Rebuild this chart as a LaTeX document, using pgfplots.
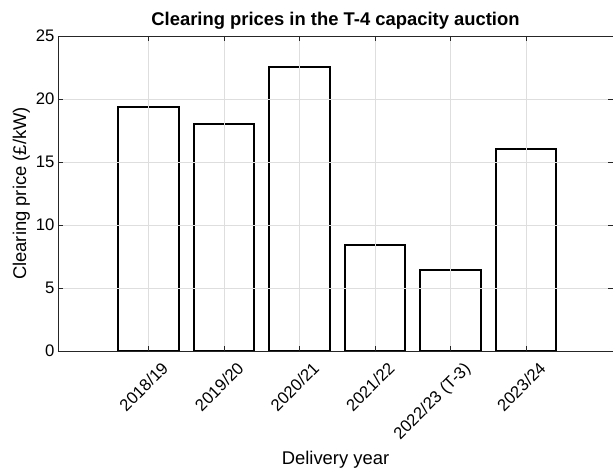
\documentclass[border=0pt]{standalone}
\usepackage{pgfplots}
\pgfplotsset{compat=1.18}
\usepackage{fontspec}
\setmainfont{Liberation Sans}
\definecolor{axgray}{gray}{0.15}
\definecolor{gridgray}{gray}{0.87}
\newcommand{\tickfont}{\fontsize{16.7}{20}\selectfont}
\newcommand{\labfont}{\fontsize{18.4}{22}\selectfont}
\begin{document}
\begin{tikzpicture}
\begin{axis}[
    scale only axis,
    width=555pt, height=315pt,
    xmin=-0.2, xmax=7.15,
    ymin=0, ymax=25,
    xtick={1,...,6},
    xticklabels={2018/19,2019/20,2020/21,2021/22,2022/23 (T-3),2023/24},
    ytick={0,5,...,25},
    /pgf/number format/assume math mode=true,
    xticklabel style={xshift=12pt, yshift=-5pt, rotate=45, anchor=north east, font=\tickfont},
    yticklabel style={font=\tickfont},
    grid=major,
    major grid style={gridgray, line width=0.6pt},
    axis line style={axgray, line width=0.6pt},
    tick style={axgray, line width=0.6pt},
    major tick length=5pt,
    tick align=inside,
    axis on top,
    xlabel={Delivery year},
    ylabel={Clearing price (£/kW)},
    xlabel style={font=\labfont},
    ylabel style={font=\labfont, xshift=0pt, yshift=-1pt},
    title={\textbf{Clearing prices in the T-4 capacity auction}},
    title style={font=\labfont, yshift=-3pt},
]
\addplot[ybar, bar width=0.8, fill=white, draw=black, line width=2pt]
    coordinates {(1,19.4) (2,18.0) (3,22.5) (4,8.4) (5,6.44) (6,16.0)};
\end{axis}
\pgfresetboundingbox
\path[use as bounding box] (-58pt,-117pt) rectangle (555pt,351pt);
\end{tikzpicture}
\end{document}
